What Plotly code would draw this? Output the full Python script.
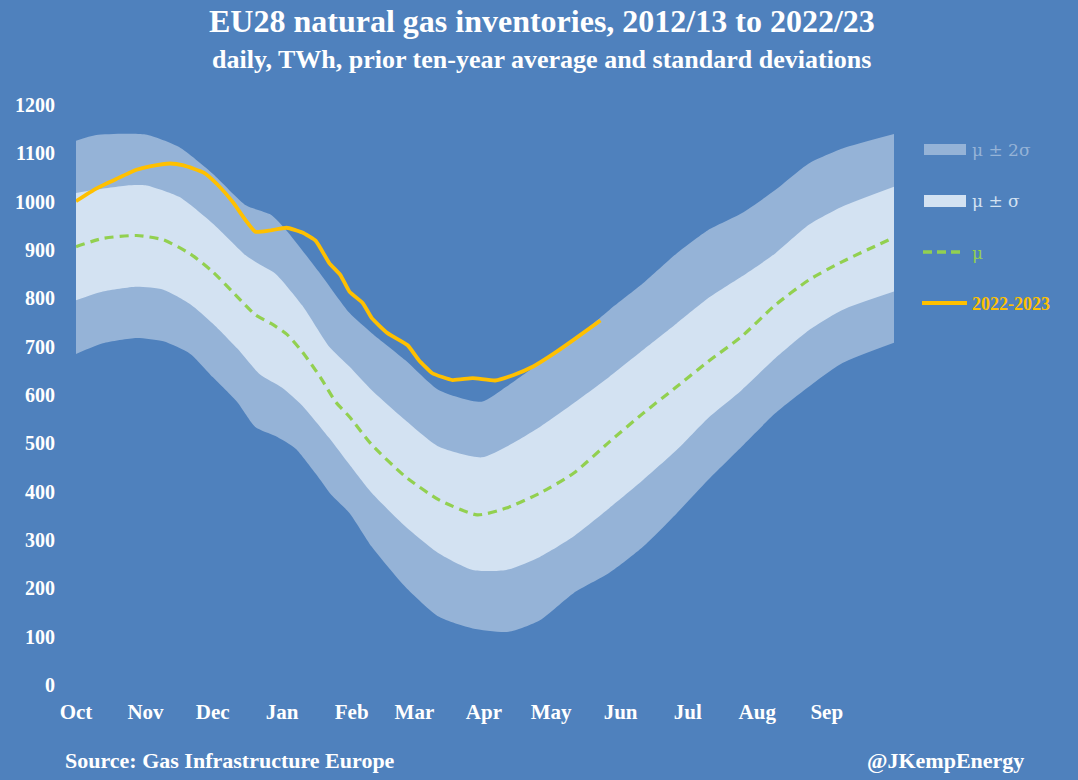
import plotly.graph_objects as go

# Day index from 1 October (0) to 30 September (365)
month_days = [0, 31, 61, 92, 123, 151, 182, 212, 243, 273, 304, 335]
month_labels = ["Oct", "Nov", "Dec", "Jan", "Feb", "Mar", "Apr", "May", "Jun", "Jul", "Aug", "Sep"]
y_ticks = [0, 100, 200, 300, 400, 500, 600, 700, 800, 900, 1000, 1100, 1200]

# mu + 2 sigma
u2_days = [0, 9, 31, 46, 61, 76, 87, 94, 109, 122, 132, 147, 162, 181, 192, 207, 222, 238, 253, 268, 282, 297, 312, 327, 342, 365]
u2_vals = [1126, 1138, 1139, 1113, 1058, 992, 973, 940, 851, 770, 728, 672, 610, 586, 617, 666, 714, 776, 831, 893, 941, 976, 1024, 1079, 1110, 1140]

# mu + sigma
u1_days = [0, 9, 24, 31, 46, 61, 76, 82, 89, 101, 113, 122, 132, 147, 162, 181, 192, 207, 222, 238, 253, 268, 282, 297, 312, 327, 342, 365]
u1_vals = [1018, 1025, 1034, 1034, 1010, 955, 888, 870, 851, 785, 700, 659, 610, 548, 493, 471, 493, 534, 583, 638, 693, 748, 800, 845, 893, 952, 990, 1031]

# mu (prior ten-year average)
mu_days = [0, 12, 27, 39, 51, 61, 72, 80, 87, 94, 101, 109, 116, 122, 132, 147, 162, 179, 192, 207, 222, 238, 253, 268, 282, 297, 312, 327, 342, 365]
mu_vals = [907, 924, 930, 921, 892, 855, 803, 766, 748, 726, 689, 637, 585, 555, 497, 431, 383, 352, 366, 397, 438, 503, 562, 617, 669, 721, 786, 838, 876, 926]

# mu - sigma
l1_days = [0, 12, 27, 39, 51, 61, 72, 82, 92, 101, 113, 122, 132, 147, 162, 177, 192, 207, 222, 238, 253, 268, 282, 297, 312, 327, 342, 365]
l1_vals = [796, 814, 824, 818, 788, 748, 696, 643, 615, 578, 511, 456, 397, 328, 272, 238, 238, 265, 307, 366, 424, 486, 552, 610, 676, 734, 776, 814]

# mu - 2 sigma
l2_days = [0, 12, 27, 39, 51, 61, 72, 80, 89, 98, 107, 114, 122, 132, 147, 162, 177, 193, 207, 222, 238, 253, 268, 282, 297, 312, 327, 342, 365]
l2_vals = [685, 707, 718, 711, 685, 637, 585, 534, 515, 489, 437, 393, 356, 286, 203, 141, 117, 110, 134, 190, 232, 286, 355, 424, 493, 562, 617, 666, 708]

# 2022-2023 inventories
y22_days = [0, 9, 18, 27, 33, 42, 48, 57, 63, 70, 75, 80, 86, 94, 101, 107, 113, 118, 122, 128, 132, 139, 148, 153, 159, 168, 177, 187, 195, 204, 213, 222, 234]
y22_vals = [1001, 1027, 1047, 1066, 1073, 1079, 1075, 1060, 1036, 999, 966, 938, 940, 946, 936, 919, 873, 848, 814, 790, 759, 728, 703, 672, 645, 631, 635, 630, 641, 659, 685, 714, 754]

legend_labels = ["μ ± 2σ", "μ ± σ", "μ", "2022-2023"]

BG = "#4f81bd"
C2 = "#95b3d7"
C1 = "#d3e2f2"
CG = "#92d050"
CY = "#ffc000"
FONT = "Liberation Serif"

# pixel helpers for layout placement (plot area 76..894 px wide, 105..685 px tall)
L, R, T, B = 76, 894, 105, 685
def px(x):
    return (x - L) / (R - L)
def py(y):
    return (B - y) / (B - T)

fig = go.Figure()
fig.add_trace(go.Scatter(x=l2_days, y=l2_vals, mode="lines", line=dict(width=0, shape="spline", smoothing=0.6),
                         showlegend=False, hoverinfo="skip"))
fig.add_trace(go.Scatter(x=u2_days, y=u2_vals, mode="lines", line=dict(width=0, shape="spline", smoothing=0.6),
                         fill="tonexty", fillcolor=C2, showlegend=False, name=legend_labels[0]))
fig.add_trace(go.Scatter(x=l1_days, y=l1_vals, mode="lines", line=dict(width=0, shape="spline", smoothing=0.6),
                         showlegend=False, hoverinfo="skip"))
fig.add_trace(go.Scatter(x=u1_days, y=u1_vals, mode="lines", line=dict(width=0, shape="spline", smoothing=0.6),
                         fill="tonexty", fillcolor=C1, showlegend=False, name=legend_labels[1]))
fig.add_trace(go.Scatter(x=mu_days, y=mu_vals, mode="lines", showlegend=False, name=legend_labels[2],
                         line=dict(color=CG, width=3.2, dash="9px,6px", shape="spline", smoothing=0.6)))
fig.add_trace(go.Scatter(x=y22_days, y=y22_vals, mode="lines", showlegend=False, name=legend_labels[3],
                         line=dict(color=CY, width=3.8, shape="spline", smoothing=0.4)))

# custom legend (keys + coloured labels)
shapes = [
    dict(type="rect", xref="paper", yref="paper", x0=px(924), x1=px(966), y0=py(155), y1=py(144),
         fillcolor=C2, line=dict(width=0)),
    dict(type="rect", xref="paper", yref="paper", x0=px(924), x1=px(966), y0=py(207), y1=py(195),
         fillcolor=C1, line=dict(width=0)),
    dict(type="line", xref="paper", yref="paper", x0=px(923), x1=px(963), y0=py(252), y1=py(252),
         line=dict(color=CG, width=3.5, dash="9px,5px")),
    dict(type="line", xref="paper", yref="paper", x0=px(922), x1=px(967), y0=py(303), y1=py(303),
         line=dict(color=CY, width=3.8)),
]
leg_y = [150, 201, 253, 304]
leg_c = [C2, C1, CG, CY]
leg_bold = [False, False, False, True]
annotations = []
for lab, yy, cc, bb in zip(legend_labels, leg_y, leg_c, leg_bold):
    annotations.append(dict(text=("<b>%s</b>" % lab) if bb else lab, xref="paper", yref="paper",
                            x=px(970), y=py(yy), xanchor="left", yanchor="middle", showarrow=False,
                            font=dict(family=FONT if bb else "DejaVu Serif", size=18 if bb else 17, color=cc)))

annotations += [
    dict(text="<b>EU28 natural gas inventories, 2012/13 to 2022/23</b>", xref="paper", yref="paper",
         x=px(542), y=py(21), xanchor="center", yanchor="middle", showarrow=False,
         font=dict(family=FONT, size=32, color="white")),
    dict(text="<b>daily, TWh, prior ten-year average and standard deviations</b>", xref="paper", yref="paper",
         x=px(541), y=py(60), xanchor="center", yanchor="middle", showarrow=False,
         font=dict(family=FONT, size=26, color="white")),
    dict(text="<b>Source: Gas Infrastructure Europe</b>", xref="paper", yref="paper",
         x=px(63), y=py(760), xanchor="left", yanchor="middle", showarrow=False,
         font=dict(family=FONT, size=22, color="white")),
    dict(text="<b>@JKempEnergy</b>", xref="paper", yref="paper",
         x=px(1026), y=py(760), xanchor="right", yanchor="middle", showarrow=False,
         font=dict(family=FONT, size=22, color="white")),
]

fig.update_layout(
    width=1078, height=780,
    paper_bgcolor=BG, plot_bgcolor=BG,
    margin=dict(l=L, r=1078 - R, t=T, b=780 - B),
    font=dict(family=FONT, color="white", size=20),
    showlegend=False,
    xaxis=dict(range=[0, 365], tickmode="array", tickvals=month_days, ticktext=month_labels,
               showgrid=False, zeroline=False, showline=False, ticks="",
               tickfont=dict(family=FONT, size=21, color="white", weight="bold"), ticklabelstandoff=12),
    yaxis=dict(range=[0, 1200], tickmode="array", tickvals=y_ticks, ticktext=[str(v) for v in y_ticks],
               showgrid=False, zeroline=False, showline=False, ticks="",
               tickfont=dict(family=FONT, size=20, color="white", weight="bold"), ticklabelstandoff=20),
    shapes=shapes,
    annotations=annotations,
)

fig.write_html("out.html", config={"displayModeBar": False},
               post_script="document.body.style.margin='0';document.body.style.background='%s';" % BG)
